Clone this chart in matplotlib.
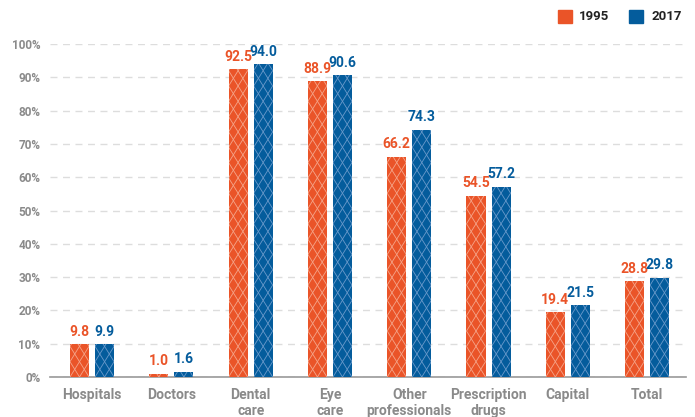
import matplotlib
matplotlib.use("Agg")
import matplotlib.pyplot as plt
import numpy as np
from matplotlib.collections import LineCollection
from matplotlib.patches import Rectangle

categories = ["Hospitals", "Doctors", "Dental\ncare", "Eye\ncare", "Other\nprofessionals",
              "Prescription\ndrugs", "Capital", "Total"]
v1995 = [9.8, 1.0, 92.5, 88.9, 66.2, 54.5, 19.4, 28.8]
v2017 = [9.9, 1.6, 94.0, 90.6, 74.3, 57.2, 21.5, 29.8]
yticks = [0, 10, 20, 30, 40, 50, 60, 70, 80, 90, 100]
series_names = ["1995", "2017"]

orange = "#EA5428"
blue = "#045C9C"
plt.rcParams['font.family'] = ['Roboto', 'DejaVu Sans']

fig = plt.figure(figsize=(6.95, 4.17), dpi=100)
ax = fig.add_axes([50/695, 1-377/417, (686-50)/695, (377-44)/417])
ax.set_xlim(-0.53, 7.49)
ax.set_ylim(0, 100)

x = np.arange(len(categories))
w = 0.24
off = 0.158
b1 = ax.bar(x - off, v1995, w, color=orange, linewidth=0, zorder=3)
b2 = ax.bar(x + off, v2017, w, color=blue, linewidth=0, zorder=3)

# diamond lattice texture inside each bar (decorative)
def texture(bars, col):
    for p in bars:
        x0, wd, h = p.get_x(), p.get_width(), p.get_height()
        dy = 4.6
        segs = []
        n = int(h / dy) + 3
        for k in range(-n, n + 2):
            ya = k * dy
            segs.append([(x0, ya), (x0 + wd, ya + 2 * dy)])
            segs.append([(x0, ya + 2 * dy), (x0 + wd, ya)])
        lc = LineCollection(segs, colors=col, linewidths=0.6, zorder=4)
        ax.add_collection(lc)
        lc.set_clip_path(p)

texture(b1, "#F5A58A")
texture(b2, "#6A9ACB")

for xi, v in zip(x, v1995):
    ax.text(xi - off, v + 1.6, f"{v:.1f}", ha="center", va="bottom", color=orange,
            fontsize=10, fontweight="bold")
for xi, v in zip(x, v2017):
    ax.text(xi + off, v + 1.6, f"{v:.1f}", ha="center", va="bottom", color=blue,
            fontsize=10, fontweight="bold")

ax.set_yticks(yticks)
ax.set_yticklabels([f"{t}%" for t in yticks], color="#8a8a8a", fontsize=8.5, fontweight="bold")
ax.set_xticks(x)
ax.set_xticklabels(categories, color="#8a8a8a", fontsize=10, fontweight="bold", linespacing=1.15)
ax.tick_params(axis="both", length=0)
ax.tick_params(axis="y", pad=7)
ax.tick_params(axis="x", pad=8)
for s in ["top", "right", "left"]:
    ax.spines[s].set_visible(False)
ax.spines["bottom"].set_color("#999999")
ax.spines["bottom"].set_linewidth(1.2)
ax.yaxis.grid(True, linestyle=(0, (5, 4)), color="#dddddd", linewidth=1, zorder=0)
ax.set_axisbelow(True)

# legend
for (lx, tx, col, name) in [(558, 579, orange, series_names[0]), (629, 651, blue, series_names[1])]:
    fig.patches.append(Rectangle((lx/695, 1-22.5/417), 13.5/695, 12/417, color=col, transform=fig.transFigure))
    fig.text(tx/695, 1-16/417, name, ha="left", va="center", fontsize=9.5, fontweight="bold", color="#222222")

fig.savefig("out.png", dpi=100)
